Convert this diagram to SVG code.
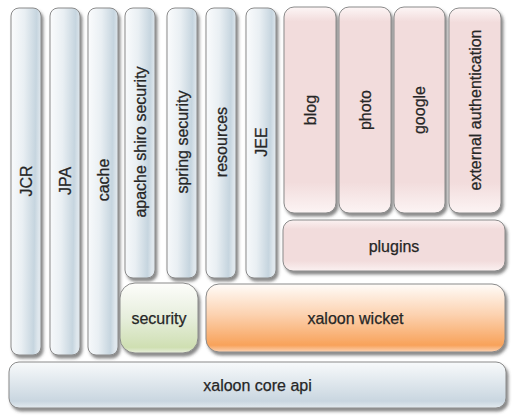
<svg xmlns="http://www.w3.org/2000/svg" width="521" height="420" viewBox="0 0 521 420">
<defs>
<filter id="sh" x="-20%" y="-20%" width="140%" height="140%">
<feDropShadow dx="2" dy="3" stdDeviation="1.4" flood-color="#4a4a4a" flood-opacity="0.65"/>
</filter>
<linearGradient id="gBlue" x1="0" y1="0" x2="1" y2="0.12">
<stop offset="0" stop-color="#fbfcfd"/>
<stop offset="0.45" stop-color="#e9eff3"/>
<stop offset="0.85" stop-color="#c6d5df"/>
<stop offset="1" stop-color="#dfe7ed"/>
</linearGradient>
<linearGradient id="gPink" x1="0" y1="0" x2="0" y2="1">
<stop offset="0" stop-color="#fdf6f6"/>
<stop offset="0.07" stop-color="#f2dcdc"/>
<stop offset="0.85" stop-color="#f2dcdc"/>
<stop offset="1" stop-color="#fcf4f4"/>
</linearGradient>
<linearGradient id="gPlug" x1="0" y1="0" x2="0" y2="1">
<stop offset="0" stop-color="#fbf1f1"/>
<stop offset="0.18" stop-color="#f2dcdc"/>
<stop offset="0.8" stop-color="#f2dcdc"/>
<stop offset="1" stop-color="#fbf1f1"/>
</linearGradient>
<linearGradient id="gGreen" x1="0" y1="0" x2="0" y2="1">
<stop offset="0" stop-color="#fdfdfb"/>
<stop offset="0.5" stop-color="#e6eedc"/>
<stop offset="0.92" stop-color="#cfdfb2"/>
<stop offset="1" stop-color="#e8efdc"/>
</linearGradient>
<linearGradient id="gOrange" x1="0" y1="0" x2="0" y2="1">
<stop offset="0" stop-color="#fffcf9"/>
<stop offset="0.45" stop-color="#fcd2b0"/>
<stop offset="0.9" stop-color="#f8a25a"/>
<stop offset="1" stop-color="#fcd3b4"/>
</linearGradient>
<linearGradient id="gCore" x1="0" y1="0" x2="0" y2="1">
<stop offset="0" stop-color="#f8fafb"/>
<stop offset="0.85" stop-color="#c9d6e0"/>
<stop offset="1" stop-color="#e3eaef"/>
</linearGradient>
<style>
.b{stroke:#8a8a8a;stroke-width:1;filter:url(#sh)}
.bl{fill:url(#gBlue)}
.pk{fill:url(#gPink)}
text{font-family:"Liberation Sans",Arial,sans-serif;font-size:16px;fill:#262626;stroke:#262626;stroke-width:0.25;text-anchor:middle;dominant-baseline:central}
</style>
</defs>
<g id="jcr"><rect class="b bl" x="11" y="8" width="30" height="347" rx="8"/><text x="26" y="181" transform="rotate(-90 26 181)">JCR</text></g>
<g id="jpa"><rect class="b bl" x="50" y="8" width="30" height="347" rx="8"/><text x="65" y="181" transform="rotate(-90 65 181)">JPA</text></g>
<g id="cache"><rect class="b bl" x="88" y="8" width="30" height="347" rx="8"/><text x="103" y="180" transform="rotate(-90 103 180)">cache</text></g>
<g id="shiro"><rect class="b bl" x="125" y="8" width="30" height="270" rx="8"/><text x="140" y="142" transform="rotate(-90 140 142)">apache shiro security</text></g>
<g id="spring"><rect class="b bl" x="167" y="8" width="30" height="270" rx="8"/><text x="182" y="142" transform="rotate(-90 182 142)">spring security</text></g>
<g id="resources"><rect class="b bl" x="206" y="8" width="30" height="270" rx="8"/><text x="221" y="142" transform="rotate(-90 221 142)">resources</text></g>
<g id="jee"><rect class="b bl" x="246" y="8" width="30" height="270" rx="8"/><text x="261" y="142" transform="rotate(-90 261 142)">JEE</text></g>
<g id="blog"><rect class="b pk" x="284" y="7" width="52" height="206" rx="10"/><text x="310" y="110" transform="rotate(-90 310 110)">blog</text></g>
<g id="photo"><rect class="b pk" x="339" y="7" width="52" height="206" rx="10"/><text x="365" y="110" transform="rotate(-90 365 110)">photo</text></g>
<g id="google"><rect class="b pk" x="394" y="7" width="51" height="206" rx="10"/><text x="419.5" y="110" transform="rotate(-90 419.5 110)">google</text></g>
<g id="extauth"><rect class="b pk" x="449" y="8" width="52" height="205" rx="10"/><text x="475" y="110" transform="rotate(-90 475 110)">external authentication</text></g>
<g id="plugins"><rect class="b" fill="url(#gPlug)" x="283" y="220" width="222" height="51" rx="10"/><text x="394" y="246">plugins</text></g>
<g id="security"><rect class="b" fill="url(#gGreen)" x="120" y="283" width="78" height="70" rx="15"/><text x="159" y="318">security</text></g>
<g id="wicket"><rect class="b" fill="url(#gOrange)" x="206" y="284" width="299" height="68" rx="13"/><text x="355.5" y="318">xaloon wicket</text></g>
<g id="core"><rect class="b" fill="url(#gCore)" x="9" y="362" width="497" height="46" rx="10"/><text x="257.5" y="385">xaloon core api</text></g>
<g id="connectors"/>
</svg>
